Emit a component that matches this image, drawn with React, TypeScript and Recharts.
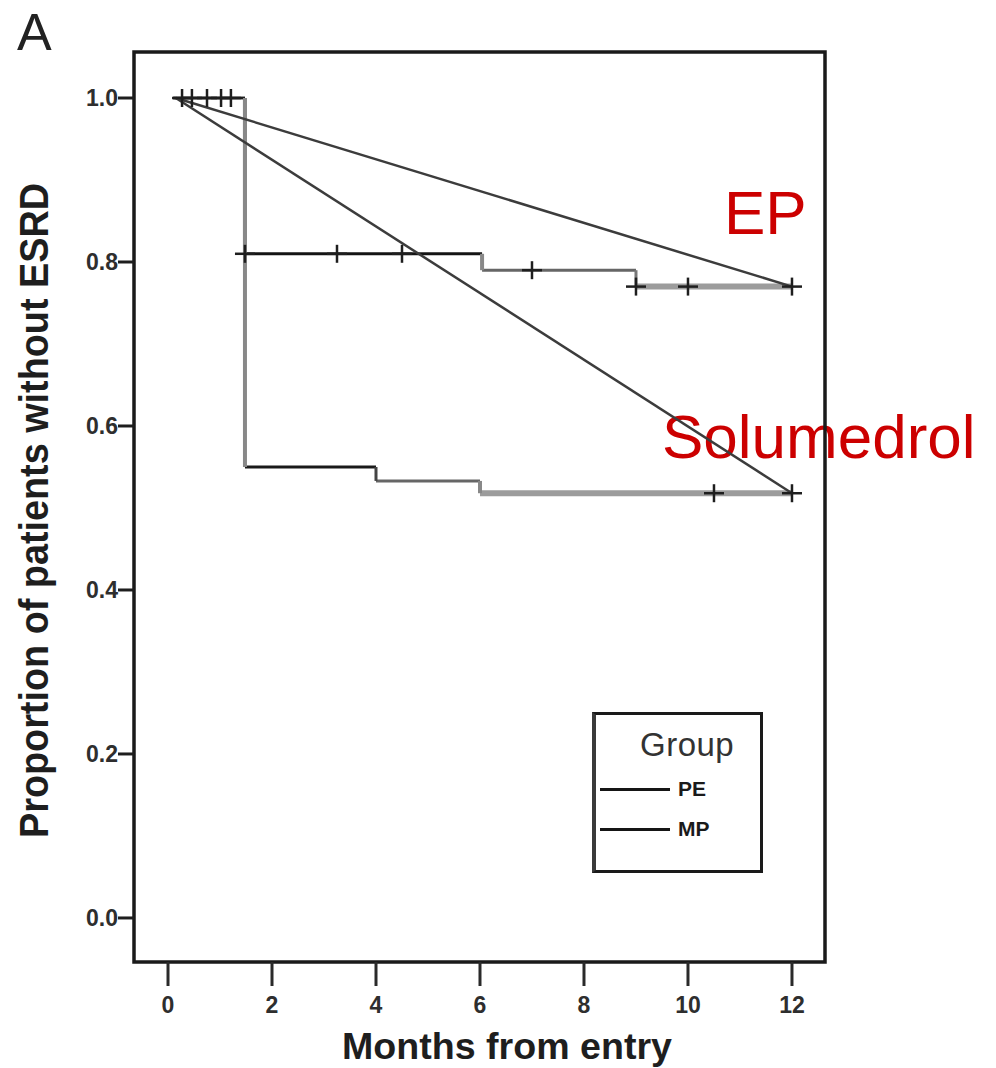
import React from 'react';
import {
  ComposedChart,
  Line,
  Scatter,
  XAxis,
  YAxis,
  ReferenceArea,
  Legend,
} from 'recharts';

// Axis ticks
const MONTH_TICKS = [0, 2, 4, 6, 8, 10, 12];
const SURVIVAL_TICKS = [0, 0.2, 0.4, 0.6, 0.8, 1.0];

// Kaplan–Meier step curves: times at which the survival value changes
const PE_STEP_MONTHS = [0.1, 1.48, 6.04, 9.0];
const PE_SURVIVAL = [1.0, 0.81, 0.79, 0.77];
const PE_END_MONTH = 12;

const MP_STEP_MONTHS = [0.1, 1.48, 4.0, 6.0];
const MP_SURVIVAL = [1.0, 0.55, 0.533, 0.518];
const MP_END_MONTH = 12;

// Censored observations (months)
const PE_CENSORED = [0.27, 0.46, 0.75, 1.02, 1.21, 1.48, 3.25, 4.5, 7.0, 9.0, 10.0, 12.0];
const MP_CENSORED = [10.5, 12.0];

// Straight trend lines drawn over the curves
const TREND_MONTHS = [0.15, 12];
const EP_TREND = [1.0, 0.77];
const SOLU_TREND = [1.0, 0.518];

// Legend
const LEGEND_TITLE = 'Group';
const LEGEND_ITEMS = ['PE', 'MP'];

// Axis domains (a little padding around the data, as in the boxed plot)
const X_DOMAIN: [number, number] = [-0.654, 12.635];
const Y_DOMAIN: [number, number] = [-0.0537, 1.0561];

type Pt = { x: number; y: number };
type Stroke = { c: string; w: number };

const survivalAt = (times: number[], surv: number[], t: number) => {
  let v = surv[0];
  for (let i = 0; i < times.length; i++) if (times[i] <= t) v = surv[i];
  return v;
};

const buildSegments = (times: number[], surv: number[], end: number) =>
  times.map((t, i) => {
    const next = i + 1 < times.length ? times[i + 1] : end;
    const run: Pt[] = [
      { x: t, y: surv[i] },
      { x: next, y: surv[i] },
    ];
    const drop: Pt[] | null =
      i === 0
        ? null
        : [
            { x: t, y: surv[i - 1] },
            { x: t, y: surv[i] },
          ];
    return { run, drop };
  });

const peSegments = buildSegments(PE_STEP_MONTHS, PE_SURVIVAL, PE_END_MONTH);
const mpSegments = buildSegments(MP_STEP_MONTHS, MP_SURVIVAL, MP_END_MONTH);

const PE_RUN_STYLE: Stroke[] = [
  { c: '#1c1c1c', w: 2.5 },
  { c: '#141414', w: 3 },
  { c: '#666666', w: 3 },
  { c: '#9c9c9c', w: 6 },
];
const PE_DROP_STYLE: Stroke[] = [
  { c: '#888888', w: 4 },
  { c: '#888888', w: 4 },
  { c: '#888888', w: 4 },
  { c: '#777777', w: 3 },
];
const MP_RUN_STYLE: Stroke[] = [
  { c: '#1c1c1c', w: 2.5 },
  { c: '#1a1a1a', w: 3 },
  { c: '#666666', w: 3 },
  { c: '#9c9c9c', w: 6 },
];
const MP_DROP_STYLE: Stroke[] = [
  { c: '#888888', w: 4 },
  { c: '#888888', w: 4 },
  { c: '#444444', w: 3 },
  { c: '#888888', w: 4 },
];

const censorPoints: Pt[] = [
  ...PE_CENSORED.map((t) => ({ x: t, y: survivalAt(PE_STEP_MONTHS, PE_SURVIVAL, t) })),
  ...MP_CENSORED.map((t) => ({ x: t, y: survivalAt(MP_STEP_MONTHS, MP_SURVIVAL, t) })),
];

const epTrend: Pt[] = TREND_MONTHS.map((x, i) => ({ x, y: EP_TREND[i] }));
const soluTrend: Pt[] = TREND_MONTHS.map((x, i) => ({ x, y: SOLU_TREND[i] }));

const TICK_FONT = {
  fontFamily: '"Liberation Sans", Arial, sans-serif',
  fontWeight: 700,
  fontSize: 23,
  fill: '#2e2e2e',
};

const XTick = (props: any) => {
  const { x, y, payload } = props;
  return (
    <text x={x} y={y} dy={25} textAnchor="middle" {...TICK_FONT}>
      {payload.value}
    </text>
  );
};

const YTick = (props: any) => {
  const { x, y, payload } = props;
  return (
    <text x={x} y={y} dy={8} textAnchor="end" {...TICK_FONT}>
      {Number(payload.value).toFixed(1)}
    </text>
  );
};

const CensorMark = (props: any) => {
  const { cx, cy } = props;
  if (cx == null || cy == null) return null;
  return (
    <g stroke="#1e1e1e" strokeWidth={2.5}>
      <line x1={cx - 10} y1={cy} x2={cx + 10} y2={cy} />
      <line x1={cx} y1={cy - 9} x2={cx} y2={cy + 9} />
    </g>
  );
};

const LegendBox = () => (
  <div
    style={{
      boxSizing: 'border-box',
      width: 171,
      height: 161,
      border: '3px solid #1a1a1a',
      borderLeft: '4px solid #3a3a3a',
      background: '#ffffff',
      position: 'relative',
      fontFamily: '"Liberation Sans", Arial, sans-serif',
    }}
  >
    <div
      style={{
        position: 'absolute',
        left: 44,
        top: 11,
        fontSize: 33,
        color: '#333333',
        letterSpacing: 0.5,
      }}
    >
      {LEGEND_TITLE}
    </div>
    {LEGEND_ITEMS.map((name, i) => (
      <div key={name}>
        <div
          style={{
            position: 'absolute',
            left: 4,
            top: 73 + i * 40,
            width: 70,
            height: 3,
            background: '#151515',
          }}
        />
        <div
          style={{
            position: 'absolute',
            left: 82,
            top: 62 + i * 40,
            fontSize: 21,
            fontWeight: 700,
            color: '#1a1a1a',
          }}
        >
          {name}
        </div>
      </div>
    ))}
  </div>
);

const TITLE_FONT = {
  fontFamily: '"Liberation Sans", Arial, sans-serif',
  fontWeight: 700,
  fill: '#1e1e1e',
};

export default function App() {
  const segLines: React.ReactNode[] = [];
  const addSegments = (
    prefix: string,
    segs: { run: Pt[]; drop: Pt[] | null }[],
    runStyle: Stroke[],
    dropStyle: Stroke[],
  ) => {
    segs.forEach((s, i) => {
      segLines.push(
        <Line
          key={`${prefix}-run-${i}`}
          data={s.run}
          dataKey="y"
          type="linear"
          stroke={runStyle[i].c}
          strokeWidth={runStyle[i].w}
          dot={false}
          activeDot={false}
          isAnimationActive={false}
          legendType="none"
        />,
      );
      if (s.drop) {
        segLines.push(
          <Line
            key={`${prefix}-drop-${i}`}
            data={s.drop}
            dataKey="y"
            type="linear"
            stroke={dropStyle[i].c}
            strokeWidth={dropStyle[i].w}
            dot={false}
            activeDot={false}
            isAnimationActive={false}
            legendType="none"
          />,
        );
      }
    });
  };
  addSegments('mp', mpSegments, MP_RUN_STYLE, MP_DROP_STYLE);
  addSegments('pe', peSegments, PE_RUN_STYLE, PE_DROP_STYLE);

  return (
    <div
      style={{
        position: 'absolute',
        left: 0,
        top: 0,
        width: 996,
        height: 1068,
        background: '#ffffff',
        overflow: 'hidden',
      }}
    >
      <svg
        width={996}
        height={1068}
        style={{ position: 'absolute', left: 0, top: 0 }}
      >
        <text
          x={17}
          y={50}
          fontFamily='"Liberation Sans", Arial, sans-serif'
          fontSize={52}
          fill="#222222"
        >
          A
        </text>
        <text
          x={724}
          y={234}
          fontFamily='"Liberation Sans", Arial, sans-serif'
          fontSize={62}
          fill="#cc0000"
        >
          EP
        </text>
        <text
          x={662}
          y={458}
          fontFamily='"Liberation Sans", Arial, sans-serif'
          fontSize={62}
          fill="#cc0000"
        >
          Solumedrol
        </text>
        <text
          x={507}
          y={1059}
          textAnchor="middle"
          textLength={330}
          lengthAdjust="spacingAndGlyphs"
          fontSize={37}
          {...TITLE_FONT}
        >
          Months from entry
        </text>
        <text
          transform="translate(48,510.5) rotate(-90)"
          textAnchor="middle"
          textLength={655}
          lengthAdjust="spacingAndGlyphs"
          fontSize={40}
          {...TITLE_FONT}
        >
          Proportion of patients without ESRD
        </text>
      </svg>
      <div style={{ position: 'absolute', left: 0, top: 0 }}>
        <ComposedChart
          width={996}
          height={1068}
          margin={{ top: 52, right: 171, bottom: 46, left: 74 }}
        >
          <XAxis
            type="number"
            dataKey="x"
            domain={X_DOMAIN}
            ticks={MONTH_TICKS}
            allowDataOverflow
            axisLine={false}
            tickLine={{ stroke: '#2a2a2a', strokeWidth: 3 }}
            tickSize={24}
            tickMargin={2}
            tick={<XTick />}
            height={60}
          />
          <YAxis
            type="number"
            dataKey="y"
            domain={Y_DOMAIN}
            ticks={SURVIVAL_TICKS}
            allowDataOverflow
            axisLine={false}
            tickLine={{ stroke: '#1e1e1e', strokeWidth: 3 }}
            tickSize={16}
            tickMargin={0}
            tick={<YTick />}
            width={60}
          />
          <ReferenceArea
            x1={X_DOMAIN[0]}
            x2={X_DOMAIN[1]}
            y1={Y_DOMAIN[0]}
            y2={Y_DOMAIN[1]}
            fill="none"
            fillOpacity={0}
            stroke="#1a1a1a"
            strokeWidth={3.5}
            ifOverflow="visible"
          />
          {segLines}
          <Line
            data={epTrend}
            dataKey="y"
            type="linear"
            stroke="#3c3c3c"
            strokeWidth={2.5}
            dot={false}
            activeDot={false}
            isAnimationActive={false}
            legendType="none"
          />
          <Line
            data={soluTrend}
            dataKey="y"
            type="linear"
            stroke="#3c3c3c"
            strokeWidth={2.5}
            dot={false}
            activeDot={false}
            isAnimationActive={false}
            legendType="none"
          />
          <Scatter
            data={censorPoints}
            shape={<CensorMark />}
            isAnimationActive={false}
            legendType="none"
          />
          <Legend
            layout="horizontal"
            verticalAlign="middle"
            align="center"
            content={() => <LegendBox />}
            wrapperStyle={{
              position: 'absolute',
              left: 592,
              top: 712,
              width: 171,
              height: 161,
              margin: 0,
            }}
          />
        </ComposedChart>
      </div>
    </div>
  );
}
